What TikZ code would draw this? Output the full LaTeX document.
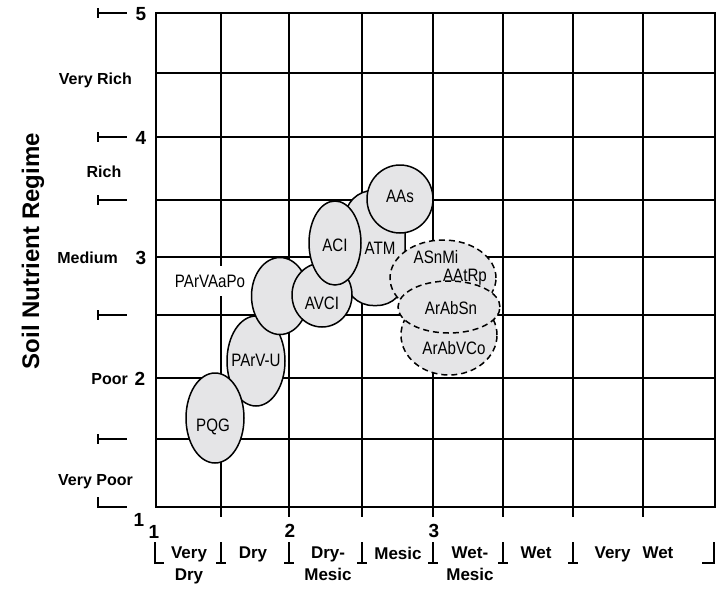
\documentclass[tikz,border=0pt]{standalone}
\usepackage{fontspec}
\setmainfont{Liberation Sans}
\newfontfamily\condfont[FakeStretch=0.84]{Liberation Sans}
\usetikzlibrary{shapes.geometric}
\definecolor{zonefill}{RGB}{229,229,231}

\begin{document}
\begin{tikzpicture}[x=1pt,y=-1pt,
  gridline/.style={line width=1.9pt},
  tickline/.style={line width=1.5pt},
  zone/.style={ellipse, draw, fill=zonefill, line width=1.5pt, inner sep=0pt},
  dzone/.style={zone, dash pattern=on 6pt off 4pt},
  boxzone/.style={rectangle, rounded corners=28pt, draw, fill=zonefill, line width=1.5pt, inner sep=0pt},
  zlabel/.style={font=\condfont\fontsize{18}{18}\selectfont, inner sep=0pt, anchor=base},
  axlabel/.style={font=\bfseries\fontsize{16}{18}\selectfont, inner sep=0pt, anchor=base east},
  num/.style={font=\bfseries\fontsize{19}{19}\selectfont, inner sep=0pt, anchor=base},
  moist/.style={font=\bfseries\fontsize{17}{22}\selectfont, align=center, inner sep=0pt, anchor=north},
]
\useasboundingbox (0,0) rectangle (725,592);

% ---- plot frame and grid ----
\draw[gridline] (156,13) rectangle (715,507);
\foreach \y in {73,137,200,257,315,378,439}
  \draw[gridline] (156,\y) -- (715,\y);
\foreach \x in {221,289,362,433,503,573,643}
  \draw[gridline] (\x,13) -- (\x,517);

% ---- nutrient axis ticks ----
\foreach \y in {13,137,200,315,439}
  \draw[tickline] (98,\y-5) -- (98,\y+5) (98,\y) -- (127,\y);
\draw[tickline] (98,497) -- (98,507) -- (127,507);

\node[num] (n5) at (141,20) {5};
\node[num] (n4) at (141,144) {4};
\node[num] (n3) at (141,264) {3};
\node[num] (n2) at (140,385) {2};
\node[num] (n1) at (139,526) {1};

\node[axlabel] (vrich) at (132,84) {Very Rich};
\node[axlabel, anchor=base] (rich) at (104,177) {Rich};
\node[axlabel] (medium) at (118,263) {Medium};
\node[axlabel] (poor) at (128,384) {Poor};
\node[axlabel] (vpoor) at (133,485) {Very Poor};

\node[rotate=90, font=\bfseries\fontsize{24}{24}\selectfont, inner sep=0pt] (title) at (33,251) {Soil Nutrient Regime};

% ---- moisture axis ----
\node[num] (m1) at (154,538) {1};
\node[num] (m2) at (290,537) {2};
\node[num] (m3) at (434,537) {3};

\draw[tickline] (155,542) -- (155,563) -- (164,563);
\foreach \x in {221,289,362,433,503,573}
  \draw[tickline] (\x,542) -- (\x,563) (\x-5,563) -- (\x+5,563);
\draw[tickline] (702,563) -- (714,563) -- (714,542);

\node[moist] (vdry) at (189,547) {Very\\Dry};
\node[moist] (dry) at (253,547) {Dry};
\node[moist] (drymesic) at (328,547) {Dry-\\Mesic};
\node[moist] (mesic) at (398,547) {Mesic};
\node[moist] (wetmesic) at (470,547) {Wet-\\Mesic};
\node[moist] (wet) at (536,547) {Wet};
\node[moist] (vwet) at (634,547) {Very\hspace{12pt}Wet};

% ---- site associations ----
\node[zone, minimum width=58pt, minimum height=90pt] (parvu) at (256,361) {};
\node[zone, minimum width=57pt, minimum height=77pt] (parvaapo) at (280,296) {};
\node[zone, minimum width=58pt, minimum height=90pt] (pqg) at (215,418) {};
\node[boxzone, minimum width=60pt, minimum height=115pt] (atm) at (375,248) {};
\node[zone, minimum width=66pt, minimum height=68pt] (aas) at (400,199) {};
\node[zone, minimum width=60pt, minimum height=64pt] (avci) at (322,295) {};
\node[zone, minimum width=52pt, minimum height=84pt] (aci) at (335,243) {};
\node[dzone, minimum width=96pt, minimum height=80pt] (arabvco) at (449,335) {};
\node[dzone, minimum width=106pt, minimum height=76pt] (asnmi) at (443,278) {};
\node[dzone, minimum width=102pt, minimum height=52pt] (arabsn) at (449,307) {};

% ---- association labels ----
\node[zlabel] (pqg-t) at (213,431) {PQG};
\node[zlabel] (parvu-t) at (256,366) {PArV-U};
\node[zlabel, fill=white, inner xsep=1pt, inner ysep=9pt] (parvaapo-t) at (210,287) {PArVAaPo};
\node[zlabel] (avci-t) at (322,309) {AVCI};
\node[zlabel] (aci-t) at (335,251) {ACI};
\node[zlabel] (atm-t) at (380,254) {ATM};
\node[zlabel] (aas-t) at (400,202) {AAs};
\node[zlabel] (asnmi-t) at (436,263) {ASnMi};
\node[zlabel] (aatrp-t) at (465,281) {AAtRp};
\node[zlabel] (arabsn-t) at (451,314) {ArAbSn};
\node[zlabel] (arabvco-t) at (454,354) {ArAbVCo};
\end{tikzpicture}
\end{document}
